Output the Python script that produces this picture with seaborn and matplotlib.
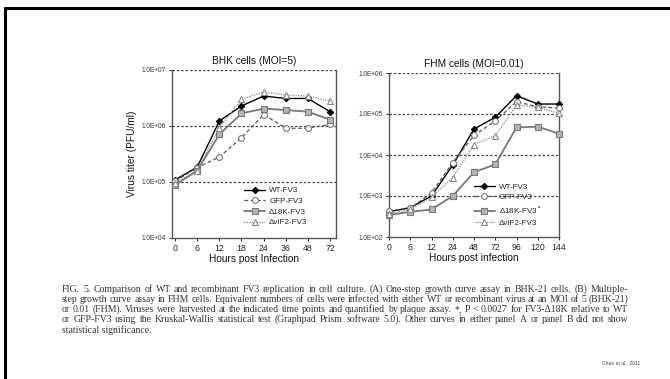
import numpy as np
import pandas as pd
import matplotlib
matplotlib.use("Agg")
import matplotlib.pyplot as plt
from matplotlib.lines import Line2D
import seaborn as sns

# panel A: BHK cells (MOI=5)
bhk_hours = ["0", "6", "12", "18", "24", "36", "48", "72"]
bhk_wt = [1.09e5, 1.85e5, 1.23e6, 2.28e6, 3.43e6, 3.1e6, 3.1e6, 1.8e6]
bhk_gfp = [1.04e5, 1.8e5, 2.8e5, 6.2e5, 1.6e6, 9.1e5, 9.1e5, 1.07e6]
bhk_d18k = [8.8e4, 1.6e5, 7.1e5, 1.68e6, 2.04e6, 1.93e6, 1.8e6, 1.3e6]
bhk_vif2 = [9.7e4, 1.6e5, 9.3e5, 3.0e6, 4.05e6, 3.6e6, 3.4e6, 2.8e6]

# panel B: FHM cells (MOI=0.01)
fhm_hours = ["0", "6", "12", "24", "48", "72", "96", "120", "144"]
fhm_wt = [415, 520, 1000, 5.7e3, 4.3e4, 8.3e4, 2.8e5, 1.75e5, 1.75e5]
fhm_gfp = [430, 500, 1.2e3, 6.5e3, 3.0e4, 6.8e4, 2.0e5, 1.5e5, 1.4e5]
fhm_d18k = [345, 410, 470, 1.0e3, 3.8e3, 5.9e3, 4.7e4, 4.9e4, 3.3e4]
fhm_vif2 = [370, 470, 950, 2.8e3, 1.8e4, 2.9e4, 1.65e5, 1.45e5, 1.04e5]

labels_a = ["WT-FV3", "GFP-FV3", "\u039418K-FV3", "\u0394vIF2-FV3"]
labels_b = ["WT-FV3", "GFP-FV3", "\u039418K-FV3$^{\\bf *}$", "\u0394vIF2-FV3"]

caption_lines = [
    "FIG. 5. Comparison of WT and recombinant FV3 replication in cell culture. (A) One-step growth curve assay in BHK-21 cells. (B) Multiple-",
    "step growth curve assay in FHM cells. Equivalent numbers of cells were infected with either WT or recombinant virus at an MOI of 5 (BHK-21)",
    "or 0.01 (FHM). Viruses were harvested at the indicated time points and quantified by plaque assay. *, P < 0.0027 for FV3-\u039418K relative to WT",
    "or GFP-FV3 using the Kruskal-Wallis statistical test (Graphpad Prism software 5.0). Other curves in either panel A or panel B did not show",
    "statistical significance.",
]
credit = "Chen et al., 2011"

sns.set_style("white")
plt.rcParams["font.family"] = ["Liberation Sans", "DejaVu Sans"]
plt.rcParams["mathtext.fontset"] = "custom"
plt.rcParams["mathtext.bf"] = "Liberation Sans:bold"

styles = [
    dict(color="black", ls="-", lw=1.0, marker="D", ms=3.2, mfc="black", mec="black"),
    dict(color="#555555", ls=(0, (3, 2)), lw=0.9, marker="o", ms=4.2, mfc="white", mec="#777777"),
    dict(color="#777777", ls="-", lw=1.3, marker="s", ms=4.6, mfc="#b5b5b5", mec="#777777"),
    dict(color="#888888", ls=(0, (1, 1)), lw=0.9, marker="^", ms=4.6, mfc="white", mec="#888888"),
]

fig = plt.figure(figsize=(6.7, 3.79), dpi=100)
fig.patch.set_facecolor("white")

# slide frame (cut off at right and bottom)
fig.add_artist(Line2D([5 / 670, 5 / 670], [0, 1 - 8 / 379], transform=fig.transFigure, color="black", lw=2.2))
fig.add_artist(Line2D([5 / 670, 1], [1 - 8 / 379, 1 - 8 / 379], transform=fig.transFigure, color="black", lw=2.2))

ax_a = fig.add_axes([172 / 670, 1 - 238 / 379, 164 / 670, 168 / 379])
ax_b = fig.add_axes([389 / 670, 1 - 237 / 379, 170 / 670, 164 / 379])


def draw_panel(ax, hours, series, labels, title, ylim, xlim, xlabel, leg_anchor):
    for vals, lab, st in zip(series, labels, styles):
        df = pd.DataFrame({"pos": np.arange(len(hours)), "titer": vals})
        sns.lineplot(data=df, x="pos", y="titer", ax=ax, label=lab, color=st["color"],
                     linestyle=st["ls"], linewidth=st["lw"], marker=st["marker"],
                     markersize=st["ms"], markerfacecolor=st["mfc"], markeredgecolor=st["mec"],
                     markeredgewidth=0.8, clip_on=False, zorder=3)
    ax.set_yscale("log")
    ax.set_ylim(*ylim)
    ax.set_xlim(*xlim)
    ax.set_xticks(np.arange(len(hours)))
    ax.set_xticklabels(hours)
    decades = np.arange(int(np.log10(ylim[0])), int(np.log10(ylim[1])) + 1)
    ax.set_yticks([10.0 ** d for d in decades])
    ax.set_yticklabels(["1.0E+%02d" % d for d in decades])
    ax.minorticks_off()
    for d in decades[1:]:
        ax.axhline(10.0 ** d, color="#444444", lw=0.9, ls=(0, (2, 1.5)), zorder=1)
    ax.tick_params(axis="y", labelsize=4.7, length=2.5, width=0.7, pad=2, colors="#333333", left=True)
    ax.tick_params(axis="x", labelsize=6.3, length=2.5, width=0.7, pad=1.5, colors="#222222", bottom=True)
    for side in ["left", "bottom", "right"]:
        ax.spines[side].set_color("#555555")
        ax.spines[side].set_linewidth(1.0)
    ax.spines["top"].set_visible(False)
    ax.set_title(title, fontsize=7.3, pad=4, color="#111111")
    ax.set_xlabel(xlabel, fontsize=7.3, labelpad=1, color="#111111")
    ax.set_ylabel("")
    ax.set_facecolor("white")
    leg = ax.legend(loc="upper left", bbox_to_anchor=leg_anchor, frameon=False, fontsize=5.8,
                    handlelength=2.6, labelspacing=0.38, handletextpad=0.5,
                    borderaxespad=0, borderpad=0)
    for t in leg.get_texts():
        t.set_color("#222222")


draw_panel(ax_a, bhk_hours, [bhk_wt, bhk_gfp, bhk_d18k, bhk_vif2], labels_a,
           "BHK cells (MOI=5)", (1e4, 1e7), (-0.14, 7.27), "Hours post Infection", (0.44, 0.305))
draw_panel(ax_b, fhm_hours, [fhm_wt, fhm_gfp, fhm_d18k, fhm_vif2], labels_b,
           "FHM cells (MOI=0.01)", (1e2, 1e6), (0, 8), "Hours post infection", (0.5, 0.33))
ax_a.set_ylabel("Virus titer (PFU/ml)", fontsize=7.3, labelpad=3, color="#111111")

# caption, justified line by line
renderer = fig.canvas.get_renderer()
x0, x1 = 62 / 670, 628 / 670
cap_size = 7.0
for i, line in enumerate(caption_lines):
    y = 1 - (289 + 10.2 * i) / 379
    words = line.split(" ")
    if i == len(caption_lines) - 1:
        fig.text(x0, y, line, fontsize=cap_size, family="Liberation Serif", color="#333333", va="center")
        continue
    arts = [fig.text(0, y, w, fontsize=cap_size, family="Liberation Serif", color="#333333", va="center") for w in words]
    widths = [a.get_window_extent(renderer).width / fig.bbox.width for a in arts]
    gap = (x1 - x0 - sum(widths)) / (len(words) - 1)
    x = x0
    for a, w in zip(arts, widths):
        a.set_x(x)
        x += w + gap

fig.text(621 / 670, 1 - 363 / 379, credit, fontsize=3.6, ha="center", va="center", color="#444444")

fig.savefig("out.png", dpi=100, facecolor="white")
